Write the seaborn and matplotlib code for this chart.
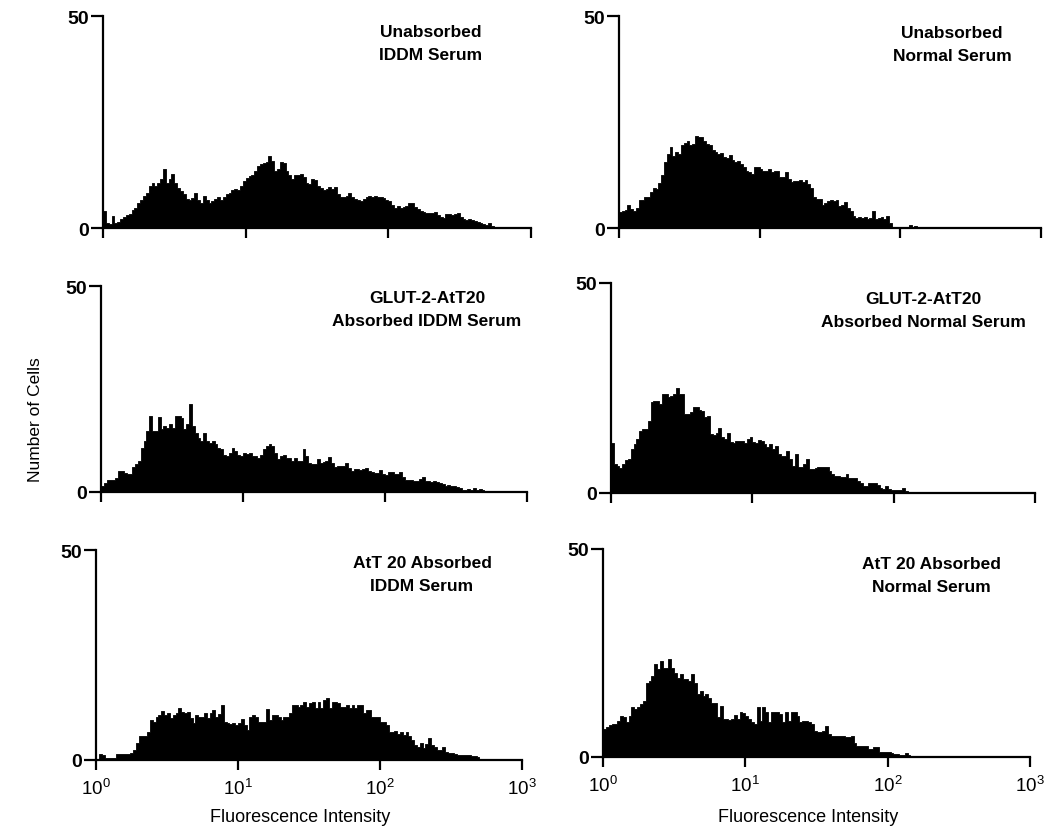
import matplotlib
matplotlib.use("Agg")
import matplotlib.pyplot as plt
import numpy as np
import seaborn as sns

# counts per 0.02-decade channel, starting at 10^0
unabs_iddm = [4, 1.2, 1, 2.8, 1.2, 1.5, 2.2, 2.5, 3, 3.2,
              4.3, 4.8, 5.8, 6.5, 7.5, 8.2, 10, 10.5, 9.8, 10.5,
              11.5, 13.8, 10.5, 11.5, 12.8, 10.5, 9.5, 8.8, 8, 6.8,
              6.5, 7, 8.3, 6.5, 6, 7.5, 6.5, 5.8, 6.3, 6.8,
              7.4, 6.5, 7.2, 8, 8.2, 9, 9.2, 9, 9.8, 11,
              11.8, 12.3, 12.5, 13.5, 14.7, 15.2, 15.3, 15.5, 17, 15.8,
              13.5, 13.8, 15.5, 15.3, 13.5, 12.5, 11.5, 12.5, 12.5, 12.8,
              12, 10.5, 10.3, 11.5, 11.3, 9.8, 9.5, 9, 9.3, 9.7,
              9.2, 9.6, 8, 7.2, 7.3, 7.5, 8.3, 7.2, 6.8, 6.5,
              6.3, 6.8, 7.4, 7.6, 7.3, 7.5, 7.2, 7.3, 7.0, 6.6,
              6.3, 5.5, 4.6, 5.1, 4.6, 5, 5.2, 5.8, 6, 5,
              4.5, 4, 3.8, 3.6, 3.5, 3.5, 3.8, 3, 2.5, 2.4,
              3.2, 3.3, 3.0, 3.2, 3.5, 2.5, 2.2, 2, 2.1, 1.8,
              1.6, 1.3, 1.2, 1.0, 0.8, 1.2, 0.5, 0.3, 0.2]
unabs_normal = [3.7, 4, 4.2, 5.5, 4.5, 4, 4.6, 6.5, 6.5, 7.4,
                7.2, 8.5, 9.5, 9.3, 10.5, 12.5, 15.5, 17.5, 19, 17,
                18, 17.5, 19.5, 20, 20.5, 19.5, 19.8, 21.8, 21.5, 21.5,
                20.5, 19.8, 19.5, 18.5, 18, 17.5, 17.8, 16.8, 16.5, 17.2,
                16, 15.5, 15.8, 15.2, 14.5, 13.5, 13.2, 12.8, 14.5, 14.3,
                13.8, 13.5, 13.5, 14, 13.2, 13.5, 13.5, 12, 12, 13.2,
                11.5, 10.8, 11.2, 11, 11.3, 10.8, 11.3, 10.3, 9.5, 7.3,
                6.8, 6.8, 5.5, 5.8, 6.3, 6.5, 6.3, 6.5, 5.3, 5.5,
                6.2, 4.8, 4, 2.8, 2.4, 2.6, 2.4, 2.6, 2.2, 2.4,
                4, 2.2, 2.4, 2.6, 2.2, 2.8, 1.2, 0.2, 0.2, 0.2,
                0.3, 0.2, 0.3, 0.6, 0.3, 0.4, 0.2]
glut_iddm = [1.5, 2.3, 2.8, 2.8, 2.8, 3.3, 5.1, 5.1, 4.7, 4.4,
             4.4, 6, 6.7, 7.5, 10.8, 12.4, 14.8, 18.4, 14.8, 14.8,
             18.2, 15.2, 16, 15.6, 16.4, 15.6, 18.4, 18.4, 18, 15.2,
             16.4, 21.4, 16, 14.4, 13.2, 12.4, 14.4, 12.4, 12, 12.4,
             11.6, 10.8, 10.4, 9.1, 8.7, 9.5, 10.6, 10, 9.1, 8.7,
             9.5, 9.3, 9.5, 8.7, 8.7, 8.3, 9.1, 10.4, 11.2, 11.6,
             11.2, 9.5, 7.9, 8.7, 9.1, 8.3, 8.3, 7.5, 8.3, 7.5,
             7.5, 10.4, 8.7, 7.1, 6.9, 6.7, 7.9, 7.1, 7.4, 7.5,
             8.5, 7.1, 6.1, 6.3, 6.3, 6.3, 7.1, 5.9, 5.1, 5.5,
             5.5, 5.3, 5.5, 5.9, 5.1, 4.9, 4.7, 4.7, 5.3, 4.4,
             4.1, 4.9, 4.9, 4.4, 4.3, 4.9, 3.6, 2.8, 2.8, 2.8,
             2.7, 2.7, 3.1, 3.6, 2.7, 2.7, 2.5, 2.6, 2.4, 2.2,
             1.9, 1.5, 1.6, 1.5, 1.4, 1.3, 1.0, 0.5, 0.4, 0.8,
             0.6, 0.9, 0.6, 0.7, 0.5, 0.2]
glut_normal = [12, 6.9, 6.5, 5.9, 6.9, 7.9, 8.1, 10.5, 11.7, 12.9,
               14.8, 15.2, 15.2, 17.2, 21.6, 22, 22, 21.2, 23.6, 23.6,
               22.8, 23.2, 23.6, 24.9, 23.6, 23.6, 18.8, 18.8, 19.2, 20.4,
               20.4, 19.8, 19.6, 18, 18.4, 14, 13.7, 14.4, 15.4, 13.3,
               12.9, 14.4, 12.1, 11.9, 12.5, 12.5, 12.5, 11.9, 12.9, 13.3,
               12.1, 11.9, 12.6, 12.5, 11.7, 10.9, 11.7, 10.5, 11.3, 9.3,
               8.7, 8.7, 10.1, 8.1, 6.5, 9.3, 6.3, 6.3, 6.9, 8.1,
               5.7, 5.6, 5.9, 6.1, 6.3, 6.1, 6.3, 5.3, 4.5, 4,
               4, 3.7, 3.7, 4.5, 3.5, 3.5, 3.5, 2.9, 2.4, 1.6,
               1.7, 2.4, 2.4, 2.4, 1.9, 1.3, 1, 1.6, 1, 0.6,
               0.8, 0.6, 0.6, 1.3, 0.5, 0.2]
att_iddm = [0, 1.4, 1.2, 0.4, 0.4, 0.4, 0.4, 1.4, 1.4, 1.4,
            1.4, 1.4, 1.6, 2.5, 4, 5.6, 5.6, 5.7, 6.7, 9.5,
            9.1, 10.3, 10.7, 11.7, 10.7, 11.3, 9.9, 10.7, 11.1, 12.5,
            11.5, 11.1, 11.5, 9.9, 8.7, 10.7, 10.3, 10.3, 11.1, 9.9,
            11.1, 11.9, 10.3, 11, 13.1, 9.1, 8.7, 8.6, 8.9, 8.3,
            8.7, 9.7, 8.3, 7.1, 10.3, 10.7, 10.3, 9.1, 9.1, 9.1,
            12.1, 9.5, 10.7, 10.7, 10.3, 9.5, 10.3, 10.3, 11.1, 13.1,
            13.1, 12.7, 13.1, 13.9, 12.7, 13.5, 13.9, 12.5, 13.9, 12.3,
            14.3, 14.7, 12.3, 13.9, 13.9, 13.5, 12.7, 12.7, 13.1, 12.3,
            13.1, 12.3, 13.1, 13.1, 11.1, 11.9, 11.9, 10.3, 10.3, 10.3,
            9.1, 9.1, 8.3, 6.7, 6.7, 6.9, 6.3, 6.7, 6, 6.7,
            5.6, 4.8, 3.6, 3.2, 4.1, 2.8, 3.8, 5.2, 3.6, 3.2,
            2.5, 2.4, 3.0, 2, 1.7, 1.6, 1.4, 1.2, 1.2, 1.2,
            1.1, 1.1, 1, 1, 0.6]
att_normal = [6.7, 7.1, 7.7, 7.9, 7.9, 8.7, 9.9, 9.5, 8.3, 9.9,
              11.9, 11.5, 11.9, 12.7, 13.5, 17.9, 18.3, 19.5, 22.3, 21.1,
              23.1, 21.5, 21.5, 23.5, 21.5, 20.3, 19.1, 19.9, 18.7, 18.7,
              18.3, 19.9, 17.9, 15.1, 15.9, 14.7, 15.1, 14.3, 13.1, 13.1,
              9.5, 12.3, 9.1, 9.1, 9, 9.1, 10.1, 9.1, 10.9, 10.6,
              9.9, 9.1, 8.3, 7.9, 11.9, 8.7, 11.9, 10.7, 8.3, 10.7,
              10.7, 10.7, 10.3, 8.3, 10.7, 8.7, 10.7, 10.7, 9.9, 8.3,
              8.7, 8.7, 8.3, 7.9, 6.3, 5.9, 6.1, 6.3, 7.5, 5.5,
              5.1, 5.1, 5, 5, 5, 4.7, 4.7, 5, 3.4, 2.7,
              2.7, 2.6, 2.6, 1.9, 1.9, 2.3, 2.3, 1.3, 1.3, 1.1,
              1.1, 1, 0.7, 0.7, 0.5, 0.5, 1, 0.5, 0.3]

panels = [
    (unabs_iddm, "Unabsorbed\nIDDM Serum"),
    (unabs_normal, "Unabsorbed\nNormal Serum"),
    (glut_iddm, "GLUT-2-AtT20\nAbsorbed IDDM Serum"),
    (glut_normal, "GLUT-2-AtT20\nAbsorbed Normal Serum"),
    (att_iddm, "AtT 20 Absorbed\nIDDM Serum"),
    (att_normal, "AtT 20 Absorbed\nNormal Serum"),
]

sns.set_style("ticks")
plt.rcParams["font.family"] = ["Liberation Sans", "DejaVu Sans"]
plt.rcParams["mathtext.fontset"] = "custom"
plt.rcParams["mathtext.rm"] = "Liberation Sans"
plt.rcParams["mathtext.it"] = "Liberation Sans"
plt.rcParams["mathtext.bf"] = "Liberation Sans:bold"
plt.rcParams["text.color"] = "black"
plt.rcParams["xtick.color"] = "black"
plt.rcParams["ytick.color"] = "black"

W, H = 1051, 829
fig = plt.figure(figsize=(W / 100, H / 100), dpi=100)

# pixel boxes of each panel: x at 10^0, x at 10^3, y at 50, y at 0
boxes = [
    (103, 531, 17, 229), (619, 1041, 17, 229),
    (101, 527, 287, 493), (611, 1035, 284, 494),
    (96, 522, 551, 761), (603, 1030, 550, 758),
]
text_pos = [(431, 44), (952, 45), (427, 310), (923, 311), (422, 575), (931, 576)]

for k, ((counts, label), (x0, x1, y1, y0)) in enumerate(zip(panels, boxes)):
    ax = fig.add_axes([x0 / W, 1 - y0 / H, (x1 - x0) / W, (y0 - y1) / H])
    x = 10 ** (0.01 + 0.02 * np.arange(len(counts)))
    sns.histplot(x=x, weights=counts, binwidth=0.02, binrange=(0, 3), log_scale=True,
                 element="step", fill=True, color="black", alpha=1, linewidth=0.6, ax=ax)
    ax.set_xlim(1, 1000)
    ax.set_ylim(0, 50)
    ax.set_yticks([0, 50])
    ax.set_xticks([1, 10, 100, 1000])
    ax.minorticks_off()
    sns.despine(ax=ax)
    for s in ["left", "bottom"]:
        ax.spines[s].set_linewidth(1.6)
        ax.spines[s].set_color("black")
    ax.tick_params(axis="y", length=9, width=1.6, pad=1, labelsize=14)
    ax.tick_params(axis="x", length=7, width=1.6, pad=6, labelsize=13.5)
    for t in ax.get_yticklabels():
        t.set_fontweight("bold")
    if k < 4:
        ax.set_xticklabels([])
    ax.set_xlabel("")
    ax.set_ylabel("")
    tx, ty = text_pos[k]
    fig.text(tx / W, 1 - ty / H, label, ha="center", va="center", fontsize=12.5,
             fontweight="bold", linespacing=1.6)

fig.text(35 / W, 1 - 420 / H, "Number of Cells", rotation=90, ha="center", va="center",
         fontsize=12.5)
fig.text(300 / W, 1 - 818 / H, "Fluorescence Intensity", ha="center", va="center", fontsize=13)
fig.text(808 / W, 1 - 818 / H, "Fluorescence Intensity", ha="center", va="center", fontsize=13)

fig.savefig("out.png", dpi=100)
